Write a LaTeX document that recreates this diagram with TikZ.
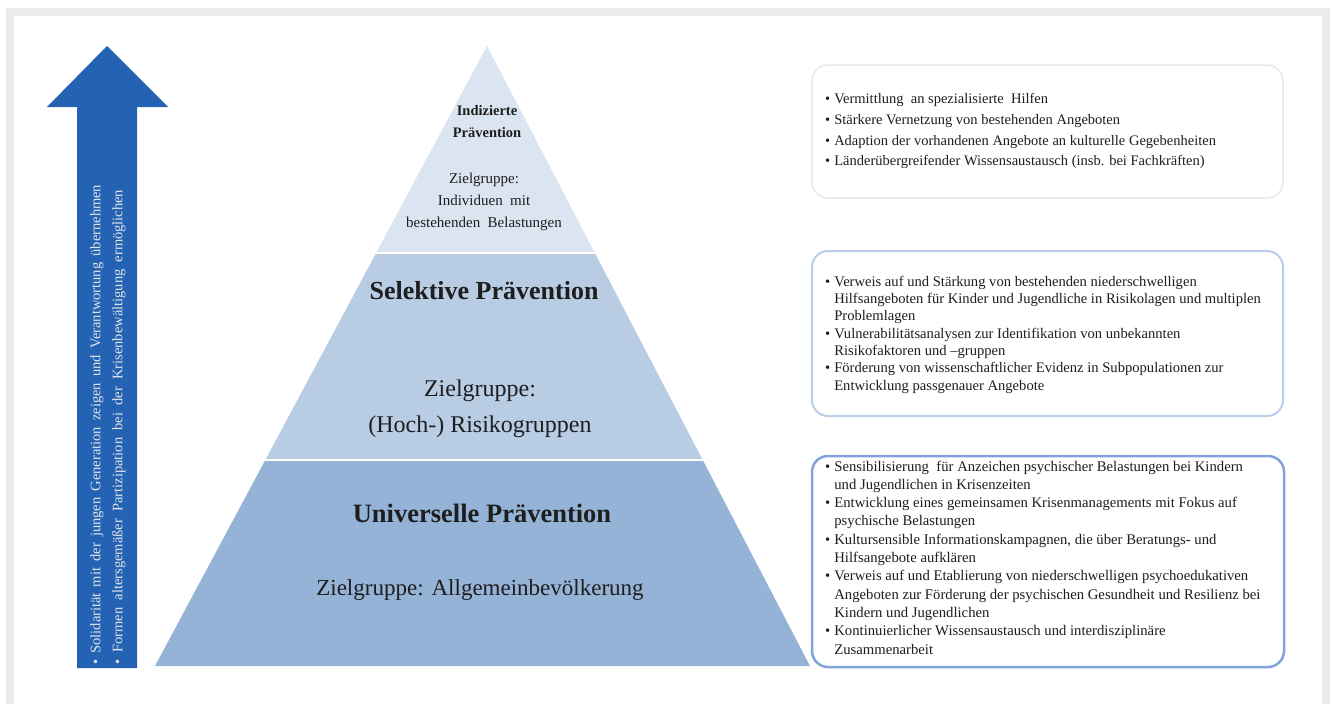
\documentclass[tikz,border=0pt]{standalone}
\usepackage{fontspec}
\setmainfont{Liberation Serif}
\usetikzlibrary{calc}
\definecolor{framegray}{HTML}{EBEBED}
\definecolor{arrowblue}{HTML}{2462B4}
\definecolor{tierA}{HTML}{DBE5F1}
\definecolor{tierB}{HTML}{B8CCE4}
\definecolor{tierC}{HTML}{95B3D7}
\definecolor{boxA}{HTML}{E4E8EF}
\definecolor{boxB}{HTML}{BBCDE9}
\definecolor{boxC}{HTML}{82A3DA}
\definecolor{arrowtext}{HTML}{E2E5EA}
\definecolor{txt}{HTML}{1E1E1E}
\begin{document}
\begin{tikzpicture}[x=1pt,y=-1pt,
  listtext/.style={anchor=north west, inner sep=0pt, align=left, text=txt},
  infobox/.style={rounded corners=16pt, fill=white},
  pyrbold/.style={inner sep=0pt, text=txt, font=\bfseries},
  pyrtext/.style={inner sep=0pt, text=txt, align=center}]
\useasboundingbox (0,0) rectangle (1330,704);
% frame
\fill[framegray] (6,8) rectangle (1330,704);
\fill[white] (14,16) rectangle (1322,704);
% arrow
\fill[arrowblue] (77,668) -- (77,107) -- (47,107) -- (107,46) -- (168,107) -- (137,107) -- (137,668) -- cycle;
\node[rotate=90, anchor=west, inner sep=0pt, text=arrowtext, align=left,
  font=\fontsize{14.5}{22}\selectfont] (arrowtxt) at (108,665)
  {\makebox[480pt][s]{\textbullet{} Solidarität mit der jungen Generation zeigen und Verantwortung übernehmen}\\
   \makebox[475pt][s]{\textbullet{} Formen altersgemäßer Partizipation bei der Krisenbewältigung ermöglichen}};
% pyramid
\coordinate (apex) at (487,46);
\coordinate (bl) at (155,666);
\coordinate (br) at (810,666);
\coordinate (aL) at ($(apex)!0.334!(bl)$);
\coordinate (aR) at ($(apex)!0.334!(br)$);
\coordinate (bL) at ($(apex)!0.668!(bl)$);
\coordinate (bR) at ($(apex)!0.668!(br)$);
\fill[tierA] (apex) -- (aR) -- (aL) -- cycle;
\fill[tierB] (aL) -- (aR) -- (bR) -- (bL) -- cycle;
\fill[tierC] (bL) -- (bR) -- (br) -- (bl) -- cycle;
\draw[white, line width=2pt] (aL) -- (aR);
\draw[white, line width=2pt] (bL) -- (bR);
% pyramid texts
\node[pyrbold, align=center, font=\fontsize{14.5}{22}\selectfont\bfseries] (indT) at (487,122) {Indizierte\\Prävention};
\node[pyrtext, font=\fontsize{15}{22}\selectfont] (indZ) at (484,202) {Zielgruppe:\\Individuen~ mit\\bestehenden~ Belastungen};
\node[pyrbold, font=\fontsize{26}{30}\selectfont\bfseries] (selT) at (484,291) {Selektive Prävention};
\node[pyrtext, font=\fontsize{24}{36}\selectfont] (selZ) at (480,409) {Zielgruppe:\\(Hoch-) Risikogruppen};
\node[pyrbold, font=\fontsize{26.5}{30}\selectfont\bfseries] (uniT) at (482,513) {Universelle Prävention};
\node[pyrtext, font=\fontsize{23}{30}\selectfont] (uniZ) at (480,590) {Zielgruppe:\hspace{8pt}Allgemeinbevölkerung};
% boxes
\draw[infobox, draw=boxA, line width=1.5pt] (812,65) rectangle (1283,198);
\draw[infobox, draw=boxB, line width=2pt] (812,251) rectangle (1283,416);
\draw[infobox, draw=boxC, line width=2.5pt] (812,456) rectangle (1284,667);
\node[listtext, font=\fontsize{14.5}{20.7}\selectfont] (list1) at (825,89)
 {\begin{tabular}{@{}l@{\hspace{4pt}}l@{}}
 \textbullet & Vermittlung~ an spezialisierte~ Hilfen\\
 \textbullet & Stärkere Vernetzung von bestehenden Angeboten\\
 \textbullet & Adaption der vorhandenen Angebote an kulturelle Gegebenheiten\\
 \textbullet & Länderübergreifender Wissensaustausch (insb. bei Fachkräften)
 \end{tabular}};
\node[listtext, font=\fontsize{14.6}{17.3}\selectfont] (list2) at (825,274)
 {\begin{tabular}{@{}l@{\hspace{4pt}}l@{}}
 \textbullet & Verweis auf und Stärkung von bestehenden niederschwelligen\\
 & Hilfsangeboten für Kinder und Jugendliche in Risikolagen und multiplen\\
 & Problemlagen\\
 \textbullet & Vulnerabilitätsanalysen zur Identifikation von unbekannten\\
 & Risikofaktoren und –gruppen\\
 \textbullet & Förderung von wissenschaftlicher Evidenz in Subpopulationen zur\\
 & Entwicklung passgenauer Angebote
 \end{tabular}};
\node[listtext, font=\fontsize{14.7}{18.3}\selectfont] (list3) at (825,458)
 {\begin{tabular}{@{}l@{\hspace{4pt}}l@{}}
 \textbullet & Sensibilisierung~ für Anzeichen psychischer Belastungen bei Kindern\\
 & und Jugendlichen in Krisenzeiten\\
 \textbullet & Entwicklung eines gemeinsamen Krisenmanagements mit Fokus auf\\
 & psychische Belastungen\\
 \textbullet & Kultursensible Informationskampagnen, die über Beratungs- und\\
 & Hilfsangebote aufklären\\
 \textbullet & Verweis auf und Etablierung von niederschwelligen psychoedukativen\\
 & Angeboten zur Förderung der psychischen Gesundheit und Resilienz bei\\
 & Kindern und Jugendlichen\\
 \textbullet & Kontinuierlicher Wissensaustausch und interdisziplinäre\\
 & Zusammenarbeit
 \end{tabular}};
\end{tikzpicture}
\end{document}
